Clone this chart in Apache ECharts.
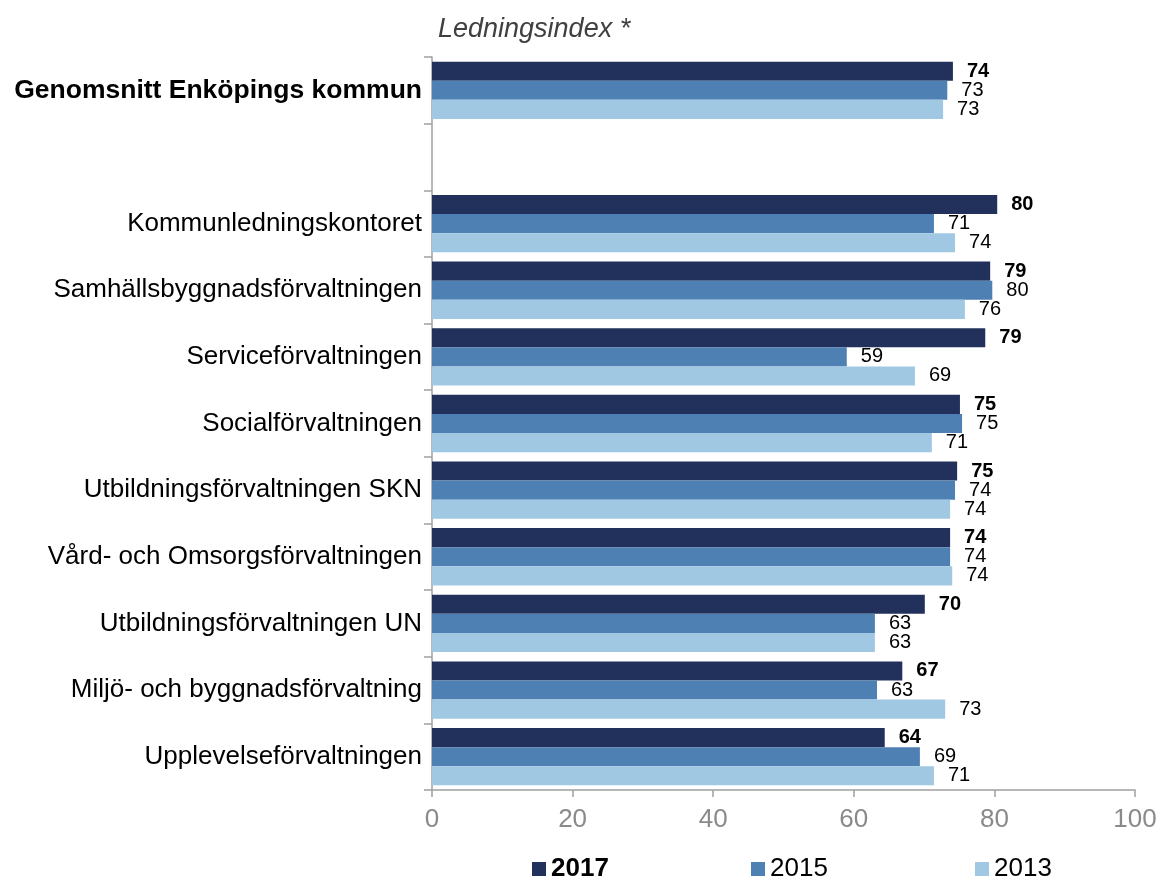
<!DOCTYPE html>
<html><head><meta charset="utf-8">
<script src="https://cdn.jsdelivr.net/npm/echarts@6/dist/echarts.min.js"></script>
<style>html,body{margin:0;padding:0;background:#fff}#c{width:1162px;height:879px}</style>
</head><body><div id="c"></div>
<script>
var categories = ['Genomsnitt Enköpings kommun', '', 'Kommunledningskontoret', 'Samhällsbyggnadsförvaltningen',
  'Serviceförvaltningen', 'Socialförvaltningen', 'Utbildningsförvaltningen SKN',
  'Vård- och Omsorgsförvaltningen', 'Utbildningsförvaltningen UN', 'Miljö- och byggnadsförvaltning',
  'Upplevelseförvaltningen'];
var seriesNames = ['2017', '2015', '2013'];
var values2017 = [74.1, null, 80.4, 79.4, 78.7, 75.1, 74.7, 73.7, 70.1, 66.9, 64.4];
var values2015 = [73.3, null, 71.4, 79.7, 59.0, 75.4, 74.4, 73.7, 63.0, 63.3, 69.4];
var values2013 = [72.7, null, 74.4, 75.8, 68.7, 71.1, 73.7, 74.0, 63.0, 73.0, 71.4];
var xTicks = [0, 20, 40, 60, 80, 100];

var colors = ['#22315c', '#4f80b3', '#a1c8e3'];
var FONT = 'Liberation Sans, Arial, sans-serif';
var chart = echarts.init(document.getElementById('c'), null, {renderer: 'canvas'});

function mkSeries(name, data, color, bold) {
  return {
    name: name, type: 'bar', data: data, barGap: '0%', barCategoryGap: '14%',
    itemStyle: {color: color},
    label: {show: true, position: 'right', distance: 14, color: '#000', fontFamily: FONT,
      fontSize: 20, fontWeight: bold ? 'bold' : 'normal',
      formatter: function (p) { return Math.round(p.value); }}
  };
}
function mkLegend(i, left, bold) {
  return {data: [seriesNames[i]], left: left, top: 851, icon: 'rect', itemWidth: 14, itemHeight: 14, itemGap: 8,
    textStyle: {fontFamily: FONT, fontSize: 26, color: '#000', fontWeight: bold ? 'bold' : 'normal'}};
}

chart.setOption({
  animation: false,
  color: colors,
  title: {text: 'Ledningsindex *', left: 433, top: 11,
    textStyle: {fontFamily: FONT, fontSize: 27, fontStyle: 'italic', fontWeight: 'normal', color: '#404040'}},
  legend: [mkLegend(0, 527, true), mkLegend(1, 746, false), mkLegend(2, 970, false)],
  grid: {left: 432, right: 27, top: 57, bottom: 89, containLabel: false},
  xAxis: {type: 'value', min: 0, max: 100, interval: 20,
    axisLine: {show: true, lineStyle: {color: '#a0a0a0', width: 1.5}},
    axisTick: {show: true, length: 7, lineStyle: {color: '#a0a0a0', width: 1.5}},
    splitLine: {show: false},
    axisLabel: {fontFamily: FONT, fontSize: 26, color: '#8a8a8a', margin: 17,
      formatter: function (v) { return xTicks.indexOf(v) >= 0 ? String(v) : ''; }}},
  yAxis: {type: 'category', inverse: true,
    data: categories.map(function (c, i) {
      return i === 0 ? {value: c, textStyle: {fontWeight: 'bold', fontSize: 26.5}} : c;
    }),
    axisLine: {show: true, lineStyle: {color: '#a0a0a0', width: 1.5}},
    axisTick: {show: true, length: 8, alignWithLabel: false, lineStyle: {color: '#a0a0a0', width: 1.5}},
    axisLabel: {fontFamily: FONT, fontSize: 26, color: '#000', margin: 10, interval: 0}},
  series: [
    mkSeries(seriesNames[0], values2017, colors[0], true),
    mkSeries(seriesNames[1], values2015, colors[1], false),
    mkSeries(seriesNames[2], values2013, colors[2], false)
  ]
});
</script></body></html>
